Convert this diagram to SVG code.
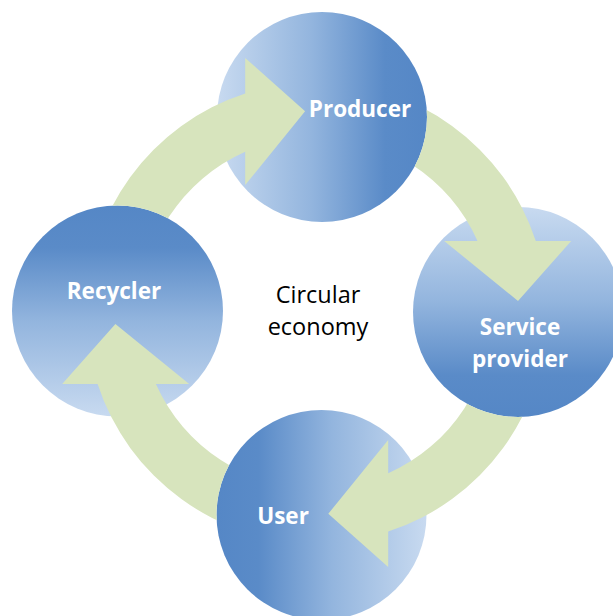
<svg xmlns="http://www.w3.org/2000/svg" width="613" height="616" viewBox="0 0 613 616">
<style>
.lbl{font-family:"Open Sans","Liberation Sans",sans-serif;font-weight:700;font-size:22.5px;fill:#ffffff;text-anchor:middle}
.ctr{font-family:"Open Sans","Liberation Sans",sans-serif;font-size:23.5px;fill:#000000;text-anchor:middle}
.arw{fill:#D7E4BD}
</style>
<defs>
<linearGradient id="gLR" x1="0" y1="0" x2="1" y2="0">
<stop offset="0" stop-color="#C8DAF0"/><stop offset="0.45" stop-color="#93B5DE"/><stop offset="0.8" stop-color="#5A8BC8"/><stop offset="1" stop-color="#5587C6"/>
</linearGradient>
<linearGradient id="gRL" x1="1" y1="0" x2="0" y2="0">
<stop offset="0" stop-color="#C8DAF0"/><stop offset="0.45" stop-color="#93B5DE"/><stop offset="0.8" stop-color="#5A8BC8"/><stop offset="1" stop-color="#5587C6"/>
</linearGradient>
<linearGradient id="gTB" x1="0" y1="0" x2="0" y2="1">
<stop offset="0" stop-color="#C8DAF0"/><stop offset="0.45" stop-color="#93B5DE"/><stop offset="0.8" stop-color="#5A8BC8"/><stop offset="1" stop-color="#5587C6"/>
</linearGradient>
<linearGradient id="gBT" x1="0" y1="1" x2="0" y2="0">
<stop offset="0" stop-color="#C8DAF0"/><stop offset="0.45" stop-color="#93B5DE"/><stop offset="0.8" stop-color="#5A8BC8"/><stop offset="1" stop-color="#5587C6"/>
</linearGradient>
<clipPath id="cR"><path clip-rule="evenodd" d="M0 0H613V616H0Z M12 311a105.5 105.5 0 1 0 211 0a105.5 105.5 0 1 0 -211 0Z"/></clipPath>
<clipPath id="cP"><path clip-rule="evenodd" d="M0 0H613V616H0Z M217 117a105 105 0 1 0 210 0a105 105 0 1 0 -210 0Z"/></clipPath>
<clipPath id="cS"><path clip-rule="evenodd" d="M0 0H613V616H0Z M413 312a105 105 0 1 0 210 0a105 105 0 1 0 -210 0Z"/></clipPath>
<clipPath id="cU"><path clip-rule="evenodd" d="M0 0H613V616H0Z M216.5 515a105 105 0 1 0 210 0a105 105 0 1 0 -210 0Z"/></clipPath>
</defs>
<rect width="613" height="616" fill="#ffffff"/>
<g id="producer">
<circle cx="322" cy="117" r="105" fill="url(#gLR)"/>
<text class="lbl" x="360" y="117">Producer</text>
</g>
<g id="service-provider">
<circle cx="518" cy="312" r="105" fill="url(#gTB)"/>
<text class="lbl" x="520" y="335">Service</text>
<text class="lbl" x="520" y="367">provider</text>
</g>
<g id="user">
<circle cx="321.5" cy="515" r="105" fill="url(#gRL)"/>
<text class="lbl" x="283" y="524">User</text>
</g>
<g id="recycler">
<circle cx="117.5" cy="311" r="105.5" fill="url(#gBT)"/>
<text class="lbl" x="114" y="299">Recycler</text>
</g>
<g id="connectors">
<path class="arw" clip-path="url(#cR)" d="M86.2 312.5A230.5 230.5 0 0 1 245.2 93.4L245.2 58L305.1 111.2L245.2 185L245.2 151.7A176 176 0 0 0 140.7 312.5Z"/>
<path class="arw" clip-path="url(#cP)" d="M316.7 82A230.5 230.5 0 0 1 535.8 241L571.2 241L518 300.9L444.2 241L477.5 241A176 176 0 0 0 316.7 136.5Z"/>
<path class="arw" clip-path="url(#cS)" d="M547.2 312.5A230.5 230.5 0 0 1 388.2 531.6L388.2 567L328.3 513.8L388.2 440L388.2 473.3A176 176 0 0 0 492.7 312.5Z"/>
<path class="arw" clip-path="url(#cU)" d="M316.7 543A230.5 230.5 0 0 1 97.6 384L62.2 384L115.4 324.1L189.2 384L155.9 384A176 176 0 0 0 316.7 488.5Z"/>
</g>
<g id="center-label">
<text class="ctr" x="318" y="303">Circular</text>
<text class="ctr" x="318" y="335">economy</text>
</g>
</svg>
